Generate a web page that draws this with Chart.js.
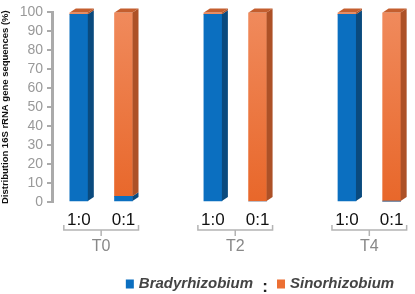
<!DOCTYPE html>
<html>
<head>
<meta charset="utf-8">
<script src="https://cdn.jsdelivr.net/npm/chart.js@4/dist/chart.umd.min.js"></script>
<style>
	html, body { margin: 0; padding: 0; background: #fff; }
	#wrap { width: 415px; height: 294px; position: relative; }
</style>
</head>
<body>
<div id="wrap"><canvas id="c"></canvas></div>
<script>
(function () {
	'use strict';

	// slots: pair, gap, pair, gap, pair
	var slots = [0, 1, 2, 3, 4, 5, 6, 7];
	var ratioLabels = ['1:0', '0:1', '', '1:0', '0:1', '', '1:0', '0:1'];
	var groupLabels = ['T0', 'T2', 'T4'];
	var bradyValues = [99, 3, null, 99, 0, null, 99, 0.5];
	var sinoValues = [1, 97, null, 1, 100, null, 1, 99.5];
	var yTicks = [0, 10, 20, 30, 40, 50, 60, 70, 80, 90, 100];

	var BLUE = '#0b6fc0', BLUE_SIDE = '#0a4a7e', BLUE_TOP = '#2a7fc8';
	var ORANGE = '#ec6f33', ORANGE_SIDE = '#ad5127', ORANGE_TOP = '#c45e2e';
	var DX = 6, DY = -4;

	function orangeFill(ctx) {
		var area = ctx.chart.chartArea;
		if (!area) {
			return ORANGE;
		}
		var g = ctx.chart.ctx.createLinearGradient(0, area.top, 0, area.bottom);
		g.addColorStop(0, '#f08a5c');
		g.addColorStop(1, '#e8672a');
		return g;
	}

	function points(values) {
		return slots.map(function (s, i) {
			return { x: s, y: values[i] };
		});
	}

	var shading = {
		id: 'shading',
		afterDatasetsDraw: function (chart) {
			var ctx = chart.ctx;
			var sides = [BLUE_SIDE, ORANGE_SIDE];
			var tops = [BLUE_TOP, ORANGE_TOP];
			ctx.save();
			slots.forEach(function (s, i) {
				var topEl = null, topIdx = -1;
				chart.data.datasets.forEach(function (ds, d) {
					var v = ds.data[i].y;
					if (v === null || !v) {
						return;
					}
					var el = chart.getDatasetMeta(d).data[i];
					var r = el.x + el.width / 2;
					ctx.fillStyle = sides[d];
					ctx.beginPath();
					ctx.moveTo(r, el.y);
					ctx.lineTo(r + DX, el.y + DY);
					ctx.lineTo(r + DX, el.base + DY);
					ctx.lineTo(r, el.base);
					ctx.closePath();
					ctx.fill();
					if (!topEl || el.y < topEl.y) {
						topEl = el;
						topIdx = d;
					}
				});
				if (topEl) {
					var l = topEl.x - topEl.width / 2, rr = topEl.x + topEl.width / 2;
					ctx.fillStyle = tops[topIdx];
					ctx.beginPath();
					ctx.moveTo(l, topEl.y);
					ctx.lineTo(l + DX, topEl.y + DY);
					ctx.lineTo(rr + DX, topEl.y + DY);
					ctx.lineTo(rr, topEl.y);
					ctx.closePath();
					ctx.fill();
				}
			});
			ctx.restore();
		}
	};

	var groups = {
		id: 'groups',
		afterDraw: function (chart) {
			var ctx = chart.ctx;
			var x = chart.scales.x;
			ctx.save();
			ctx.strokeStyle = '#b4b4b4';
			ctx.lineWidth = 1.5;
			groupLabels.forEach(function (label, g) {
				var a = x.getPixelForValue(slots[g * 3]) - 15;
				var b = x.getPixelForValue(slots[g * 3 + 1]) + 15;
				var m = (a + b) / 2;
				ctx.beginPath();
				ctx.moveTo(a, 225);
				ctx.lineTo(a, 230);
				ctx.lineTo(b, 230);
				ctx.lineTo(b, 225);
				ctx.moveTo(m, 230);
				ctx.lineTo(m, 236);
				ctx.stroke();
				ctx.fillStyle = '#888';
				ctx.font = '16px "Liberation Sans", Arial, sans-serif';
				ctx.textAlign = 'center';
				ctx.textBaseline = 'middle';
				ctx.fillText(label, m, 247);
			});

			// legend with colon between the two taxa
			var ds = chart.data.datasets;
			ctx.font = 'italic bold 15px "Liberation Sans", Arial, sans-serif';
			ctx.textBaseline = 'middle';
			ctx.textAlign = 'left';
			var w0 = ctx.measureText(ds[0].label).width;
			var w1 = ctx.measureText(ds[1].label).width;
			var box = 8, gap = 5, sep = 24;
			var total = box + gap + w0 + sep + box + gap + w1;
			var cx = 260 - total / 2, cy = 284;
			ctx.fillStyle = BLUE;
			ctx.fillRect(cx, cy - 4.5, box, 9);
			ctx.fillStyle = '#444';
			ctx.fillText(ds[0].label, cx + box + gap, cy);
			cx += box + gap + w0;
			ctx.font = 'bold 17px "Liberation Sans", Arial, sans-serif';
			ctx.textAlign = 'center';
			ctx.fillStyle = '#222';
			ctx.fillText(':', cx + sep / 2, cy + 3);
			cx += sep;
			ctx.fillStyle = ORANGE;
			ctx.fillRect(cx, cy - 4.5, box, 9);
			ctx.font = 'italic bold 15px "Liberation Sans", Arial, sans-serif';
			ctx.textAlign = 'left';
			ctx.fillStyle = '#444';
			ctx.fillText(ds[1].label, cx + box + gap, cy);
			ctx.restore();
		}
	};

	new Chart(document.getElementById('c'), {
		type: 'bar',
		data: {
			datasets: [
				{ label: 'Bradyrhizobium', data: points(bradyValues), backgroundColor: BLUE },
				{ label: 'Sinorhizobium', data: points(sinoValues), backgroundColor: orangeFill }
			]
		},
		options: {
			responsive: true,
			maintainAspectRatio: false,
			animation: false,
			layout: { padding: { top: 3, right: 1, left: 0, bottom: 0 } },
			datasets: { bar: { barThickness: 18 } },
			plugins: { legend: { display: false }, tooltip: { enabled: false } },
			scales: {
				x: {
					type: 'linear',
					stacked: true,
					offset: false,
					min: -0.6,
					max: 7.5,
					grid: { display: false },
					border: { display: false },
					ticks: {
						stepSize: 1,
						includeBounds: false,
						autoSkip: false,
						maxRotation: 0,
						padding: 0,
						color: '#111',
						font: { size: 17, family: '"Liberation Sans", Arial, sans-serif' },
						callback: function (v) {
							return ratioLabels[v] || '';
						}
					},
					afterFit: function (scale) {
						scale.height = 92;
					}
				},
				y: {
					stacked: true,
					min: 0,
					max: 100,
					afterBuildTicks: function (scale) {
						scale.ticks = yTicks.map(function (v) { return { value: v }; });
					},
					grid: {
						drawOnChartArea: false,
						drawTicks: true,
						tickLength: 5,
						color: '#aaa',
						lineWidth: 2
					},
					border: { color: '#aaa', width: 3 },
					ticks: {
						autoSkip: false,
						padding: 4,
						color: '#999',
						font: { size: 14, family: '"Liberation Sans", Arial, sans-serif' }
					},
					title: {
						display: true,
						text: 'Distribution 16S rRNA gene sequences (%)',
						color: '#111',
						padding: 0,
						font: { size: 9.5, weight: 'bold', family: '"Liberation Sans", Arial, sans-serif' }
					},
					afterFit: function (scale) {
						scale.width = 52;
					}
				}
			}
		},
		plugins: [shading, groups]
	});
}());
</script>
</body>
</html>
